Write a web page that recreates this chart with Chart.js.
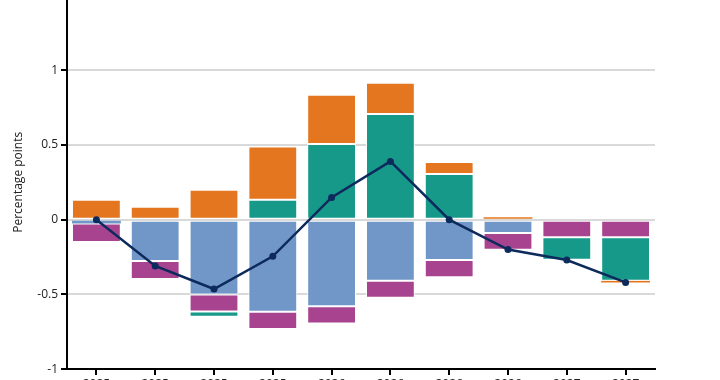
<!DOCTYPE html>
<html>
<head>
<meta charset="utf-8">
<script src="https://cdn.jsdelivr.net/npm/chart.js@4/dist/chart.umd.min.js"></script>
<style>
html,body{margin:0;padding:0;background:#fff;overflow:hidden;width:720px;height:380px;}
#wrap{position:absolute;left:0;top:-30px;width:720px;height:440px;}
</style>
</head>
<body>
<div id="wrap"><canvas id="c" width="720" height="440"></canvas></div>
<script>
const categories = ["2025","2025","2025","2025","2026","2026","2026","2026","2027","2027"];
const blueSeries    = [-0.025,-0.277,-0.50,-0.617,-0.58,-0.408,-0.27,-0.09,0,0];
const magentaSeries = [-0.125,-0.12,-0.115,-0.115,-0.115,-0.115,-0.115,-0.112,-0.118,-0.118];
const tealSeries    = [0,0,-0.035,0.134,0.506,0.707,0.306,0,-0.15,-0.29];
const orangeSeries  = [0.134,0.087,0.20,0.356,0.33,0.209,0.08,0.016,0,-0.012];
const totalLine     = [0,-0.31,-0.464,-0.245,0.149,0.39,0,-0.2,-0.27,-0.42];
const yTicks = [-1,-0.5,0,0.5,1,1.5];

const barCommon = {type:'bar', borderColor:'#ffffff', borderSkipped:false, stack:'bars', order:1,
  barPercentage:1.0, categoryPercentage:0.83,
  borderWidth:(ctx)=>{ const v = ctx.raw; return (typeof v==='number' && Math.abs(v) < 0.03) ? 0 : 1; }};

new Chart(document.getElementById('c'), {
  data: {
    labels: categories,
    datasets: [
      Object.assign({label:'Blue', data:blueSeries, backgroundColor:'#7097c7'}, barCommon),
      Object.assign({label:'Magenta', data:magentaSeries, backgroundColor:'#a8448f'}, barCommon),
      Object.assign({label:'Teal', data:tealSeries, backgroundColor:'#17998a'}, barCommon),
      Object.assign({label:'Orange', data:orangeSeries, backgroundColor:'#e3761e'}, barCommon),
      {type:'line', label:'Total', data:totalLine, stack:'line', order:0,
       borderColor:'#0d2a5c', backgroundColor:'#0d2a5c', borderWidth:2.5,
       pointRadius:3.5, pointHoverRadius:3.5, pointBackgroundColor:'#0d2a5c', pointBorderWidth:0, tension:0}
    ]
  },
  options: {
    responsive:false, animation:false,
    layout:{padding:{top:25.5,right:65,bottom:16.5,left:0}},
    plugins:{legend:{display:false}, tooltip:{enabled:false}},
    scales:{
      x:{stacked:true,
        grid:{offset:false, drawOnChartArea:false, drawTicks:true, tickLength:6, tickColor:'#000', lineWidth:2},
        border:{color:'#000', width:2},
        ticks:{color:'#222', font:{family:'Open Sans', size:12}, padding:2, maxRotation:0, autoSkip:false}
      },
      y:{stacked:true, min:-1, max:1.5,
        afterBuildTicks:(s)=>{ s.ticks = yTicks.map(v=>({value:v})); },
        afterFit:(s)=>{ s.width = 67; },
        grid:{color:'#d9d9d9', lineWidth:2, tickColor:'#000', tickLength:6},
        border:{color:'#000', width:2},
        ticks:{color:'#222', font:{family:'Open Sans', size:12}, padding:3,
          callback:(v)=> String(v)},
        title:{display:true, text:'Percentage points', color:'#222', font:{family:'Open Sans', size:12}, padding:{top:11,bottom:4}}
      }
    }
  }
});
</script>
</body>
</html>
